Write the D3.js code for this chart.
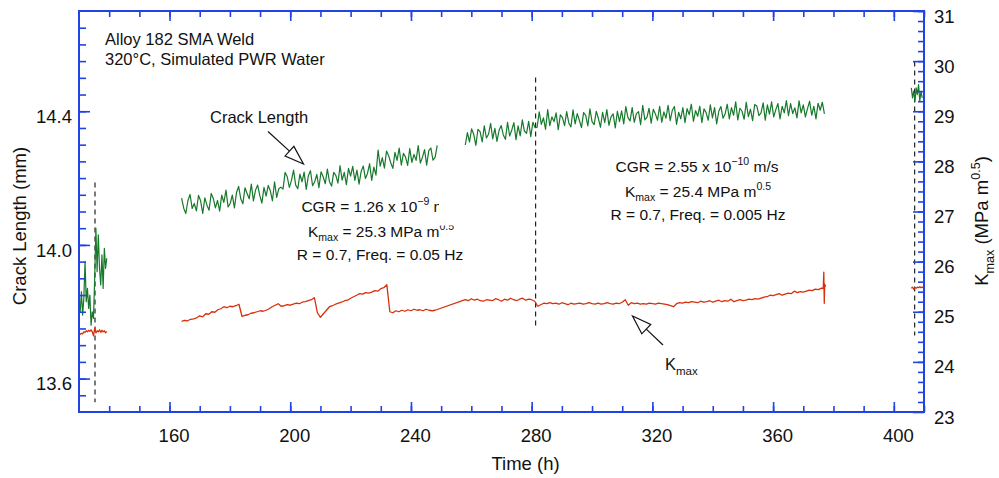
<!DOCTYPE html>
<html>
<head>
<meta charset="utf-8">
<script src="https://cdn.jsdelivr.net/npm/d3@7"></script>
<style>
  body { margin: 0; background: #fff; }
  svg { font-family: "Liberation Sans", Arial, sans-serif; }
</style>
</head>
<body>
<svg width="999" height="478"></svg>
<script>
// ---- data ----
// crack length (mm), sampled on a regular time grid (h)
const crackEarlyStart = 130, crackEarlyStep = 0.4;
const crackEarly = [13.82, 13.80, 13.86, 13.79, 13.84, 13.95, 13.83, 13.87, 13.81, 13.85,
  13.76, 13.80, 13.78, 13.90, 14.05, 13.92, 14.03, 13.93, 13.88, 13.97,
  13.87, 13.99, 13.93, 13.96];

const crackAStart = 164, crackAStep = 0.7;
const crackA = [14.140, 14.110, 14.094, 14.133, 14.151, 14.109, 14.124, 14.102, 14.148, 14.132,
  14.094, 14.141, 14.119, 14.104, 14.154, 14.139, 14.111, 14.133, 14.101, 14.149,
  14.127, 14.164, 14.114, 14.124, 14.149, 14.111, 14.157, 14.175, 14.138, 14.123,
  14.171, 14.154, 14.138, 14.182, 14.132, 14.164, 14.179, 14.148, 14.125, 14.172,
  14.146, 14.178, 14.162, 14.132, 14.189, 14.142, 14.168, 14.173, 14.167, 14.217,
  14.204, 14.172, 14.193, 14.224, 14.179, 14.168, 14.212, 14.189, 14.218, 14.166,
  14.207, 14.222, 14.177, 14.189, 14.211, 14.171, 14.219, 14.204, 14.183, 14.227,
  14.189, 14.176, 14.217, 14.208, 14.185, 14.237, 14.194, 14.217, 14.180, 14.229,
  14.206, 14.235, 14.193, 14.224, 14.182, 14.220, 14.236, 14.199, 14.214, 14.243,
  14.193, 14.233, 14.209, 14.284, 14.236, 14.261, 14.230, 14.281, 14.267, 14.246,
  14.229, 14.277, 14.253, 14.290, 14.239, 14.274, 14.263, 14.238, 14.288, 14.247,
  14.271, 14.253, 14.297, 14.245, 14.262, 14.285, 14.239, 14.282, 14.290, 14.254,
  14.262, 14.298];

const crackBStart = 258, crackBStep = 0.7;
const crackB = [14.299, 14.336, 14.308, 14.347, 14.331, 14.298, 14.346, 14.339, 14.308, 14.356,
  14.320, 14.331, 14.364, 14.317, 14.349, 14.310, 14.343, 14.357, 14.329, 14.316,
  14.367, 14.326, 14.344, 14.366, 14.315, 14.356, 14.326, 14.374, 14.340, 14.334,
  14.370, 14.324, 14.367, 14.351, 14.352, 14.398, 14.361, 14.380, 14.346, 14.405,
  14.357, 14.383, 14.369, 14.395, 14.345, 14.389, 14.381, 14.357, 14.399, 14.365,
  14.353, 14.404, 14.362, 14.393, 14.373, 14.351, 14.396, 14.388, 14.356, 14.407,
  14.369, 14.360, 14.400, 14.379, 14.352, 14.397, 14.366, 14.405, 14.358, 14.383,
  14.392, 14.350, 14.400, 14.369, 14.401, 14.362, 14.414, 14.381, 14.371, 14.411,
  14.367, 14.393, 14.399, 14.360, 14.418, 14.374, 14.382, 14.409, 14.364, 14.406,
  14.392, 14.373, 14.415, 14.367, 14.398, 14.379, 14.418, 14.372, 14.403, 14.414,
  14.361, 14.397, 14.377, 14.411, 14.366, 14.408, 14.390, 14.421, 14.370, 14.402,
  14.385, 14.415, 14.366, 14.407, 14.396, 14.373, 14.419, 14.380, 14.411, 14.362,
  14.400, 14.414, 14.379, 14.392, 14.421, 14.377, 14.411, 14.388, 14.428, 14.374,
  14.409, 14.400, 14.376, 14.427, 14.384, 14.406, 14.372, 14.420, 14.416, 14.387,
  14.395, 14.425, 14.373, 14.419, 14.391, 14.428, 14.383, 14.405, 14.423, 14.377,
  14.415, 14.395, 14.432, 14.387, 14.423, 14.393, 14.410, 14.380, 14.431, 14.395,
  14.419, 14.383, 14.408, 14.430, 14.388, 14.415, 14.377, 14.424, 14.403, 14.427,
  14.392];

const crackLateStart = 405.8, crackLateStep = 0.4;
const crackLate = [14.47, 14.44, 14.46, 14.43, 14.47, 14.45, 14.48, 14.43, 14.46, 14.44];

// Kmax (MPa m^0.5)
const kmaxEarlyStart = 130, kmaxEarlyStep = 0.4;
const kmaxEarly = [24.54, 24.55, 24.57, 24.56, 24.60, 24.59, 24.62, 24.60, 24.63, 24.61,
  24.64, 24.60, 24.52, 24.67, 24.58, 24.62, 24.60, 24.64, 24.59, 24.63,
  24.60, 24.62, 24.58, 24.61];

const kmaxAStart = 164, kmaxAStep = 1;
const kmaxA = [24.81, 24.83, 24.82, 24.85, 24.86, 24.88, 24.92, 24.90, 24.96, 24.95,
  25.00, 24.99, 25.04, 25.06, 25.10, 25.08, 25.11, 25.10, 25.12, 25.15,
  24.91, 24.93, 24.94, 24.97, 24.98, 25.00, 25.02, 25.01, 25.03, 25.06,
  25.10, 25.13, 25.16, 25.11, 25.12, 25.14, 25.13, 25.15, 25.17, 25.16,
  25.19, 25.20, 25.22, 25.24, 25.28, 24.98, 24.89, 24.96, 25.03, 25.10,
  25.12, 25.15, 25.17, 25.19, 25.22, 25.23, 25.27, 25.30, 25.33, 25.36,
  25.35, 25.38, 25.37, 25.39, 25.42, 25.41, 25.46, 25.48, 25.54, 25.00,
  24.98, 25.02, 25.00, 25.03, 25.01, 25.04, 25.02, 25.05, 25.03, 25.04,
  25.02, 25.05, 25.03, 25.02, 25.03];

const kmaxBStart = 258, kmaxBStep = 1;
const kmaxB = [25.24, 25.22, 25.26, 25.23, 25.25, 25.22, 25.21, 25.24, 25.23, 25.22,
  25.26, 25.24, 25.21, 25.25, 25.23, 25.27, 25.24, 25.22, 25.25, 25.27,
  25.23, 25.25, 25.24, 25.21, 25.11, 25.14, 25.17, 25.16, 25.18, 25.16,
  25.17, 25.15, 25.18, 25.16, 25.14, 25.17, 25.15, 25.16, 25.17, 25.15,
  25.16, 25.18, 25.16, 25.15, 25.17, 25.15, 25.16, 25.18, 25.16, 25.15,
  25.17, 25.16, 25.19, 25.24, 25.13, 25.18, 25.16, 25.17, 25.15, 25.16,
  25.15, 25.17, 25.16, 25.15, 25.17, 25.16, 25.15, 25.14, 25.12, 25.10,
  25.16, 25.18, 25.17, 25.19, 25.18, 25.20, 25.19, 25.18, 25.21, 25.19,
  25.20, 25.22, 25.19, 25.21, 25.23, 25.20, 25.22, 25.21, 25.25, 25.20,
  25.22, 25.24, 25.22, 25.23, 25.25, 25.24, 25.26, 25.25, 25.27, 25.29,
  25.30, 25.33, 25.32, 25.34, 25.36, 25.33, 25.35, 25.37, 25.36, 25.41,
  25.38, 25.40, 25.39, 25.41, 25.43, 25.42, 25.45, 25.44, 25.47];
// the spike at the end of the long run [time, Kmax]
const kmaxTail = [[376.6, 25.46], [376.8, 25.79], [376.95, 25.17], [377.1, 25.55], [377.4, 25.50]];

const kmaxLateStart = 405.8, kmaxLateStep = 0.4;
const kmaxLate = [25.47, 25.49, 25.45, 25.48, 25.47, 25.49, 25.48, 25.50, 25.48, 25.49, 25.48];

// dashed markers: time, crack-length top and bottom
const markerTimes = [135.3, 281.3, 406.9];
const markerTop = [14.187, 14.501, 14.549];
const markerBottom = [13.529, 13.753, 13.729];

// axes
const timeDomain = [130, 410];
const crackDomain = [13.5, 14.7];
const kmaxDomain = [23, 31];
const timeMajor = [160, 200, 240, 280, 320, 360, 400];
const timeMinor = d3.range(14, 42).map(i => i * 10);
const crackMajor = [13.6, 14.0, 14.4];
const crackMinor = d3.range(271, 294).map(i => i * 0.05);
const kmaxMajor = d3.range(23, 32);
const kmaxMinor = d3.range(116, 156).map(i => i * 0.2);

// ---- drawing ----
const svg = d3.select('svg');
const plotLeft = 79, plotRight = 924, plotTop = 11, plotBottom = 412;
const axisColor = '#2143e6';
const green = '#17792b';
const red = '#d8300c';

const x = d3.scaleLinear().domain(timeDomain).range([plotLeft, plotRight]);
const yL = d3.scaleLinear().domain(crackDomain).range([plotBottom, plotTop]);
const yR = d3.scaleLinear().domain(kmaxDomain).range([plotBottom, plotTop]);

const grid = (start, step, vals) => vals.map((v, i) => [start + i * step, v]);

// first annotation block is partly covered in the original figure
const defs = svg.append('defs');
const clip = defs.append('clipPath').attr('id', 'cover');
clip.append('rect').attr('x', 0).attr('y', 0).attr('width', 439).attr('height', 478);
clip.append('rect').attr('x', 0).attr('y', 225.5).attr('width', 999).attr('height', 260);

function rich(g, cx, cy, parts, size) {
  const t = g.append('text')
    .attr('x', cx).attr('y', cy)
    .attr('text-anchor', 'middle')
    .attr('font-size', size)
    .attr('fill', '#111');
  let shift = 0;
  parts.forEach(p => {
    const txt = typeof p === 'string' ? p : p[0];
    const kind = typeof p === 'string' ? null : p[1];
    let target = 0;
    if (kind === 'sup') target = -0.42 * size;
    if (kind === 'sub') target = 0.32 * size;
    t.append('tspan')
      .attr('dy', target - shift)
      .attr('font-size', kind ? size * 0.68 : size)
      .text(txt);
    shift = target;
  });
  return t;
}

const block1 = svg.append('g').attr('clip-path', 'url(#cover)');
rich(block1, 380, 212, ['CGR = 1.26 x 10', ['\u22129', 'sup'], ' m/s'], 15.5);
rich(block1, 381, 236.5, ['K', ['max', 'sub'], ' = 25.3 MPa m', ['0.5', 'sup']], 15.5);
rich(block1, 380, 260, ['R = 0.7, Freq. = 0.05 Hz'], 15.5);

const block2 = svg.append('g');
rich(block2, 697, 172, ['CGR = 2.55 x 10', ['\u221210', 'sup'], ' m/s'], 15.5);
rich(block2, 698, 196.5, ['K', ['max', 'sub'], ' = 25.4 MPa m', ['0.5', 'sup']], 15.5);
rich(block2, 698, 219.5, ['R = 0.7, Freq. = 0.005 Hz'], 15.5);

// dashed markers
svg.append('g').selectAll('line')
  .data(markerTimes)
  .enter().append('line')
  .attr('x1', d => x(d)).attr('x2', d => x(d))
  .attr('y1', (d, i) => yL(markerTop[i]))
  .attr('y2', (d, i) => yL(markerBottom[i]))
  .attr('stroke', '#222')
  .attr('stroke-width', 1.2)
  .attr('stroke-dasharray', '5,4');

// data
const lineL = d3.line().x(d => x(d[0])).y(d => yL(d[1]));
const lineR = d3.line().x(d => x(d[0])).y(d => yR(d[1]));

const crackRuns = [
  grid(crackEarlyStart, crackEarlyStep, crackEarly),
  grid(crackAStart, crackAStep, crackA),
  grid(crackBStart, crackBStep, crackB),
  grid(crackLateStart, crackLateStep, crackLate),
];
const kmaxRuns = [
  grid(kmaxEarlyStart, kmaxEarlyStep, kmaxEarly),
  grid(kmaxAStart, kmaxAStep, kmaxA)
    .concat(grid(kmaxBStart, kmaxBStep, kmaxB))
    .concat(kmaxTail),
  grid(kmaxLateStart, kmaxLateStep, kmaxLate),
];

svg.append('g').selectAll('path')
  .data(kmaxRuns)
  .enter().append('path')
  .attr('d', lineR)
  .attr('fill', 'none')
  .attr('stroke', red)
  .attr('stroke-width', 1.3)
  .attr('stroke-linejoin', 'round');

svg.append('g').selectAll('path')
  .data(crackRuns)
  .enter().append('path')
  .attr('d', lineL)
  .attr('fill', 'none')
  .attr('stroke', green)
  .attr('stroke-width', 1.2)
  .attr('stroke-linejoin', 'round');

// axes
function styleAxis(g) {
  g.select('.domain').remove();
  g.selectAll('line').attr('stroke', axisColor).attr('stroke-width', 1.6);
  g.selectAll('text').attr('font-size', 18.5).attr('fill', '#111')
    .attr('font-family', '"Liberation Sans", Arial, sans-serif');
}

svg.append('g').attr('transform', `translate(0,${plotBottom})`)
  .call(d3.axisBottom(x).tickValues(timeMinor).tickSize(-6).tickFormat('')).call(styleAxis);
svg.append('g').attr('transform', `translate(0,${plotBottom})`)
  .call(d3.axisBottom(x).tickValues(timeMajor).tickSize(-10).tickPadding(17).tickFormat(d3.format('d')))
  .call(styleAxis)
  .selectAll('text').attr('dx', 4);
svg.append('g').attr('transform', `translate(0,${plotTop})`)
  .call(d3.axisTop(x).tickValues(timeMinor).tickSize(-6).tickFormat('')).call(styleAxis);
svg.append('g').attr('transform', `translate(0,${plotTop})`)
  .call(d3.axisTop(x).tickValues(timeMajor).tickSize(-10).tickFormat('')).call(styleAxis);

svg.append('g').attr('transform', `translate(${plotLeft},0)`)
  .call(d3.axisLeft(yL).tickValues(crackMinor).tickSize(-7).tickFormat('')).call(styleAxis);
svg.append('g').attr('transform', `translate(${plotLeft},0)`)
  .call(d3.axisLeft(yL).tickValues(crackMajor).tickSize(-11).tickPadding(7).tickFormat(d3.format('.1f')))
  .call(styleAxis)
  .selectAll('text').attr('dy', '0.6em');

svg.append('g').attr('transform', `translate(${plotRight},0)`)
  .call(d3.axisRight(yR).tickValues(kmaxMinor).tickSize(-6).tickFormat('')).call(styleAxis);
svg.append('g').attr('transform', `translate(${plotRight},0)`)
  .call(d3.axisRight(yR).tickValues(kmaxMajor).tickSize(-11).tickPadding(10).tickFormat(d3.format('d')))
  .call(styleAxis)
  .selectAll('text').attr('dy', '0.6em');

svg.append('rect')
  .attr('x', plotLeft).attr('y', plotTop)
  .attr('width', plotRight - plotLeft).attr('height', plotBottom - plotTop)
  .attr('fill', 'none')
  .attr('stroke', axisColor)
  .attr('stroke-width', 2);

// axis titles
svg.append('text')
  .attr('x', (plotLeft + plotRight) / 2 + 24).attr('y', 470)
  .attr('text-anchor', 'middle')
  .attr('font-size', 18.5).attr('fill', '#111')
  .text('Time (h)');

svg.append('text')
  .attr('transform', 'translate(25.5,226) rotate(-90)')
  .attr('text-anchor', 'middle')
  .attr('font-size', 18.5).attr('fill', '#111')
  .text('Crack Length (mm)');

const rightTitle = svg.append('g').attr('transform', 'translate(988,221) rotate(-90)');
rich(rightTitle, 0, 0, ['K', ['max', 'sub'], ' (MPa m', ['0.5', 'sup'], ')'], 18.5);

// labels and arrows
const note = (tx, ty, s) => svg.append('text')
  .attr('x', tx).attr('y', ty)
  .attr('font-size', 16.5).attr('fill', '#111')
  .text(s);
note(105, 45, 'Alloy 182 SMA Weld');
note(105, 65, '320\u00b0C, Simulated PWR Water');
note(210, 123, 'Crack Length');

const kLabel = svg.append('text').attr('x', 665).attr('y', 369.5)
  .attr('font-size', 16.5).attr('fill', '#111');
kLabel.append('tspan').text('K');
kLabel.append('tspan').attr('dy', 5.5).attr('font-size', 11.5).text('max');

function arrow(x1, y1, x2, y2) {
  const len = Math.hypot(x2 - x1, y2 - y1);
  const ux = (x2 - x1) / len, uy = (y2 - y1) / len;
  const hl = 19, hw = 6.5;
  const bx = x2 - ux * hl, by = y2 - uy * hl;
  svg.append('line')
    .attr('x1', x1).attr('y1', y1).attr('x2', bx).attr('y2', by)
    .attr('stroke', '#111').attr('stroke-width', 1.2);
  svg.append('path')
    .attr('d', `M${x2},${y2}L${bx - uy * hw},${by + ux * hw}L${bx + uy * hw},${by - ux * hw}Z`)
    .attr('fill', '#fff').attr('stroke', '#111').attr('stroke-width', 1.2)
    .attr('stroke-linejoin', 'miter');
}
arrow(268, 131.5, 303.5, 164);
arrow(663, 345, 632.5, 316);
</script>
</body>
</html>
